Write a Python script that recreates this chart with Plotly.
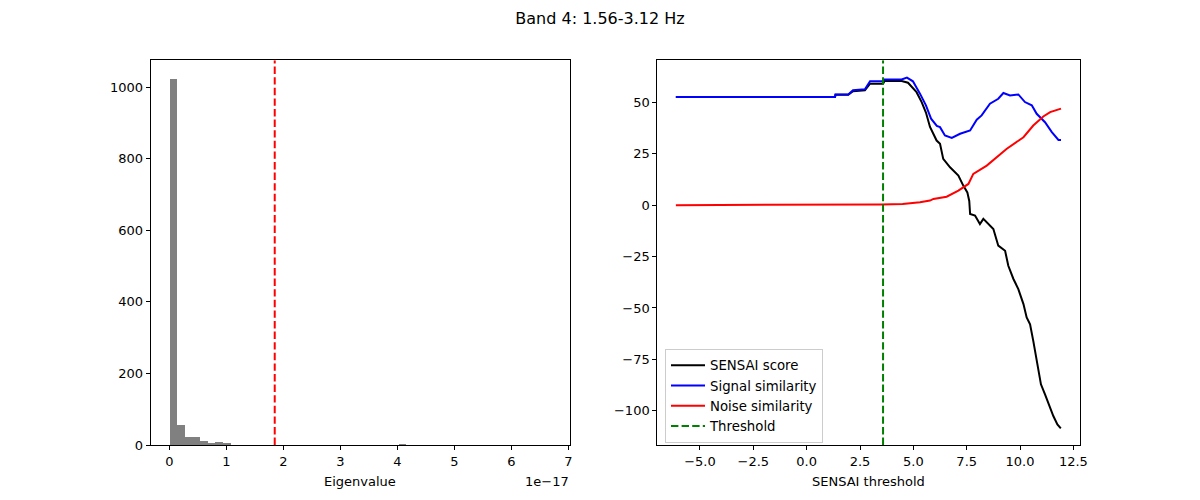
import plotly.graph_objects as go

# ---------------- Data ----------------
# Histogram of eigenvalues (units of 1e-17), 50 bins over [0, 6.7]
hist_bin_start = 0.0
hist_bin_end = 6.7
hist_counts = [1022, 56, 22, 22, 11, 2, 8, 6, 0, 0,
               0, 0, 0, 0, 0, 0, 0, 0, 0, 0,
               0, 0, 0, 0, 0, 0, 0, 0, 0, 0,
               1, 0, 0, 0, 0, 0, 0, 0, 0, 0,
               0, 0, 0, 0, 0, 0, 0, 0, 0, 0]
eig_threshold = 1.85

# SENSAI curves
signal_x = [-6.13, 1.33, 1.35, 1.95, 2.17, 2.73, 2.97, 3.58, 3.65, 4.45, 4.7, 4.98, 5.31, 5.59,
            5.83, 6.1, 6.25, 6.48, 6.8, 7.19, 7.66, 7.97, 8.2, 8.59, 8.98, 9.22, 9.53, 9.92,
            10.23, 10.55, 10.78, 11.17, 11.49, 11.8, 11.92]
signal_y = [52.5, 52.5, 53.8, 53.8, 55.8, 56.3, 60.2, 60.2, 61.1, 61.1, 62.0, 60.2, 54.2, 48.5,
            42.0, 38.5, 37.9, 33.9, 32.7, 34.7, 36.3, 41.5, 43.6, 49.3, 51.7, 54.5, 53.3, 53.8,
            50.1, 48.5, 44.4, 40.3, 35.5, 31.7, 31.7]

score_x = [-6.13, 1.33, 1.35, 1.95, 2.17, 2.73, 2.97, 3.58, 3.65, 4.45, 4.75, 5.15, 5.39, 5.59,
           5.78, 5.94, 6.09, 6.25, 6.4, 6.72, 7.11, 7.34, 7.53, 7.62, 7.66, 7.89, 8.12, 8.28,
           8.51, 8.75, 8.98, 9.3, 9.45, 9.69, 9.92, 10.16, 10.31, 10.47, 10.62, 10.78, 10.98,
           11.17, 11.41, 11.56, 11.75, 11.91]
score_y = [52.5, 52.5, 53.6, 53.6, 55.4, 55.8, 59.0, 59.0, 60.3, 60.3, 59.5, 54.9, 50.1, 45.0,
           38.0, 34.7, 31.4, 29.8, 22.5, 18.4, 14.4, 9.5, 6.2, 2.0, -4.3, -5.1, -9.2, -6.7,
           -9.2, -11.6, -19.7, -22.2, -29.5, -35.9, -40.8, -48.1, -54.6, -57.9, -66.0, -75.7,
           -87.1, -92.0, -98.5, -102.5, -106.6, -108.5]

noise_x = [-6.13, 2.0, 3.5, 4.5, 5.0, 5.31, 5.78, 5.94, 6.56, 6.72, 7.11, 7.58, 7.81, 8.44,
           8.91, 9.38, 10.16, 10.62, 11.09, 11.41, 11.92]
noise_y = [0.0, 0.0, 0.3, 0.5, 0.9, 1.4, 2.2, 3.0, 4.1, 5.0, 7.1, 10.3, 15.2, 19.2,
           23.3, 27.4, 33.0, 38.7, 43.1, 45.2, 46.9]

sensai_threshold = 3.58

left_xticks = [0, 1, 2, 3, 4, 5, 6, 7]
left_yticks = [0, 200, 400, 600, 800, 1000]
right_xticks = [-5.0, -2.5, 0.0, 2.5, 5.0, 7.5, 10.0, 12.5]
right_yticks = [-100, -75, -50, -25, 0, 25, 50]

# ---------------- Figure ----------------
nb = len(hist_counts)
bw = (hist_bin_end - hist_bin_start) / nb
centers = [hist_bin_start + bw * (i + 0.5) for i in range(nb)]

LX = [-0.326, 7.03]
LYR = [0, 1075]
RX = [-7.0, 12.81]
RY = [-116.6, 70.4]
DASH = "7.4px,3.2px"

fig = go.Figure()
fig.add_trace(go.Bar(x=centers, y=hist_counts, width=bw, marker=dict(color="#808080", line=dict(width=0)),
                     xaxis="x", yaxis="y", showlegend=False))
fig.add_trace(go.Scatter(x=[eig_threshold, eig_threshold], y=LYR, mode="lines",
                         line=dict(color="red", width=2, dash=DASH),
                         xaxis="x", yaxis="y", showlegend=False))

fig.add_trace(go.Scatter(x=score_x, y=score_y, mode="lines", name="SENSAI score",
                         line=dict(color="black", width=2), xaxis="x2", yaxis="y2"))
fig.add_trace(go.Scatter(x=signal_x, y=signal_y, mode="lines", name="Signal similarity",
                         line=dict(color="blue", width=2), xaxis="x2", yaxis="y2"))
fig.add_trace(go.Scatter(x=noise_x, y=noise_y, mode="lines", name="Noise similarity",
                         line=dict(color="red", width=2), xaxis="x2", yaxis="y2"))
fig.add_trace(go.Scatter(x=[sensai_threshold, sensai_threshold], y=RY, mode="lines", name="Threshold",
                         line=dict(color="green", width=2, dash=DASH), xaxis="x2", yaxis="y2"))

axis_common = dict(showgrid=False, zeroline=False, showline=True, linecolor="black", linewidth=1,
                   mirror=True, ticks="outside", ticklen=4, tickwidth=1, tickcolor="black",
                   automargin=False,
                   tickfont=dict(family="DejaVu Sans", size=13, color="black"))


def fmt(v):
    return f"{v:.1f}".replace("-", "\u2212")


TOP = 60.3
BOT = 445
fig.update_layout(
    width=1200, height=500,
    margin=dict(l=0, r=0, t=0, b=0, autoexpand=False),
    paper_bgcolor="white", plot_bgcolor="white",
    font=dict(family="DejaVu Sans", size=13, color="black"),
    xaxis=dict(domain=[150.7 / 1200, 570 / 1200], range=LX, anchor="y",
               tickvals=left_xticks, ticktext=[str(t) for t in left_xticks], **axis_common),
    yaxis=dict(domain=[(500 - BOT) / 500, (500 - TOP) / 500], range=LYR, anchor="x",
               tickvals=left_yticks, ticktext=[str(t) for t in left_yticks], **axis_common),
    xaxis2=dict(domain=[657.3 / 1200, 1080 / 1200], range=RX, anchor="y2",
                tickvals=right_xticks, ticktext=[fmt(t) for t in right_xticks], **axis_common),
    yaxis2=dict(domain=[(500 - BOT) / 500, (500 - TOP) / 500], range=RY, anchor="x2",
                tickvals=right_yticks, ticktext=[str(t).replace("-", "\u2212") for t in right_yticks],
                **axis_common),
    legend=dict(x=665 / 1200, y=(500 - 349) / 500, xanchor="left", yanchor="top",
                bgcolor="rgba(255,255,255,0.8)", bordercolor="#cccccc", borderwidth=1,
                font=dict(family="DejaVu Sans", size=13.3), tracegroupgap=0,
                itemwidth=34),
    title=dict(text="Band 4: 1.56-3.12 Hz", x=0.5, xanchor="center", y=1 - 18 / 500, yanchor="middle",
               font=dict(family="DejaVu Sans", size=16, color="black")),
    annotations=[
        dict(text="1e\u221217", xref="paper", yref="paper", x=571 / 1200, y=(500 - 481) / 500,
             xanchor="right", yanchor="middle", showarrow=False,
             font=dict(family="DejaVu Sans", size=13, color="black")),
        dict(text="Eigenvalue", xref="paper", yref="paper", x=(150.7 + 570) / 2 / 1200, y=(500 - 481) / 500,
             xanchor="center", yanchor="middle", showarrow=False,
             font=dict(family="DejaVu Sans", size=13, color="black")),
        dict(text="SENSAI threshold", xref="paper", yref="paper", x=(657.3 + 1080) / 2 / 1200,
             y=(500 - 481) / 500, xanchor="center", yanchor="middle", showarrow=False,
             font=dict(family="DejaVu Sans", size=13, color="black")),
    ],
    bargap=0,
)

fig.write_html("out.html")
